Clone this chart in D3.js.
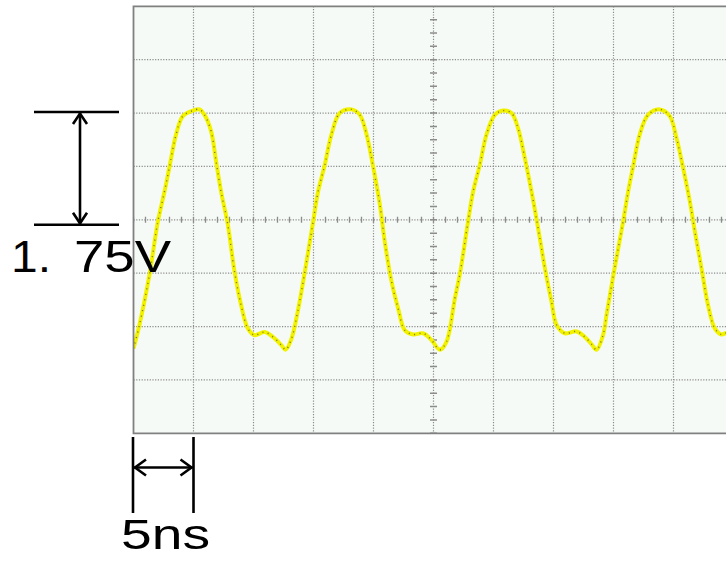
<!DOCTYPE html>
<html><head><meta charset="utf-8">
<script src="https://cdn.jsdelivr.net/npm/d3@7"></script>
<style>html,body{margin:0;padding:0;background:#fff;overflow:hidden}</style>
</head><body>
<svg id="chart" width="726" height="563"></svg>
<script>
const timeNs = [0,0.5,1.33,2.03,2.58,3.0,3.55,4.11,4.94,5.5,5.92,6.47,6.88,7.3,7.86,8.42,8.97,9.53,10.08,10.92,11.61,12.3,12.67,13.13,13.69,
  14.28,14.97,15.38,15.94,16.5,17.19,18.17,18.86,19.42,19.97,20.53,20.94,21.5,22.05,22.61,23.3,24.13,24.83,25.53,26.08,26.78,
  27.19,27.88,28.3,28.86,29.42,30.11,30.8,31.5,32.05,32.61,33.17,33.72,34.28,34.83,35.25,35.94,36.92,37.61,38.17,38.58,39.13,39.42,
  39.97,40.8,41.22,41.63,42.19,42.88,43.86,44.69,45.25,45.8,46.36,46.78,47.33,47.88,48.44,49.0,49.33,50];
const voltage = [-2.11,-1.72,-0.90,-0.03,0.46,0.87,1.40,1.70,1.79,1.81,1.72,1.45,0.96,0.46,-0.08,-0.85,-1.40,-1.78,-1.89,-1.84,-1.92,-2.05,-2.13,-1.97,-1.50,
  -0.85,-0.03,0.46,0.90,1.40,1.75,1.81,1.72,1.40,0.87,0.25,-0.36,-1.01,-1.45,-1.81,-1.88,-1.86,-1.97,-2.13,-2.00,-1.29,
  -0.90,-0.03,0.46,0.90,1.40,1.72,1.79,1.75,1.50,1.01,0.46,-0.14,-0.79,-1.34,-1.72,-1.86,-1.83,-1.92,-2.04,-2.13,-1.89,-1.56,
  -0.93,-0.03,0.46,0.87,1.40,1.72,1.81,1.70,1.34,0.85,0.30,-0.19,-0.79,-1.40,-1.78,-1.88,-1.86,-1.82];

// Screen settings
const timeDivisions = [0,5,10,15,20,25,30,35,40,45,50];          // ns, 5 ns/div
const voltDivisions = [-3.5,-2.625,-1.75,-0.875,0,0.875,1.75,2.625,3.5]; // V, 0.875 V/div
const timeSubTicks = d3.range(0, 50.01, 1);                         // 5 per div
const voltSubTicks = d3.range(-3.5, 3.51, 0.21875);                 // 4 per div

// Annotation labels and spans
const voltLabelA = "1.";
const voltLabelB = "75V";
const voltSpan = [0, 1.75];
const timeLabel = "5ns";
const timeSpan = [0, 5];

const svg = d3.select("#chart");
const x = d3.scaleLinear().domain([0, 50]).range([133.5, 733.5]);
const y = d3.scaleLinear().domain([-3.5, 3.5]).range([433.3, 6.3]);

// Screen background
svg.append("rect").attr("x", x(0)).attr("y", y(3.5)).attr("width", 700).attr("height", y(-3.5) - y(3.5))
  .attr("fill", "#f5faf6");

svg.append("clipPath").attr("id", "scr").append("rect")
  .attr("x", x(0)).attr("y", y(3.5)).attr("width", 700).attr("height", y(-3.5) - y(3.5));

const gridColor = "#8c8c8c";
const grid = svg.append("g").attr("clip-path", "url(#scr)");
grid.selectAll(".vg").data(timeDivisions.slice(1)).join("line")
  .attr("x1", d => x(d)).attr("x2", d => x(d)).attr("y1", y(3.5)).attr("y2", y(-3.5))
  .attr("stroke", gridColor).attr("stroke-width", 1.2).attr("stroke-dasharray", "1.2 1.5");
grid.selectAll(".hg").data(voltDivisions.slice(1, -1)).join("line")
  .attr("x1", x(0)).attr("x2", x(50)).attr("y1", d => y(d)).attr("y2", d => y(d))
  .attr("stroke", gridColor).attr("stroke-width", 1.2).attr("stroke-dasharray", "1.2 1.5");
grid.selectAll(".tt").data(timeSubTicks).join("line")
  .attr("x1", d => x(d)).attr("x2", d => x(d)).attr("y1", y(0) - 3).attr("y2", y(0) + 3)
  .attr("stroke", gridColor).attr("stroke-width", 1.3);
grid.selectAll(".vt").data(voltSubTicks).join("line")
  .attr("x1", x(25) - 3.5).attr("x2", x(25) + 3.5).attr("y1", d => y(d)).attr("y2", d => y(d))
  .attr("stroke", gridColor).attr("stroke-width", 1.5);

// Trace
const pts = timeNs.map((t, i) => [t, voltage[i]]);
const line = d3.line().x(d => x(d[0])).y(d => y(d[1])).curve(d3.curveCatmullRom.alpha(0.5));
const tr = svg.append("g").attr("clip-path", "url(#scr)");
tr.append("path").attr("d", line(pts)).attr("fill", "none").attr("stroke", "#f2f200")
  .attr("stroke-width", 4).attr("stroke-linejoin", "round");
tr.append("path").attr("d", line(pts)).attr("fill", "none").attr("stroke", "#505008")
  .attr("stroke-width", 1.4).attr("stroke-dasharray", "1 4.5").attr("opacity", 0.75);

// Screen border
svg.append("path")
  .attr("d", `M${x(50)+10},${y(3.5)}H${x(0)}V${y(-3.5)}H${x(50)+10}`)
  .attr("fill", "none").attr("stroke", "#808080").attr("stroke-width", 1.8);

// Annotations
const ann = svg.append("g").attr("stroke", "#000").attr("stroke-width", 2.6).attr("fill", "none");
const vTop = y(voltSpan[1]) - 1, vBot = y(voltSpan[0]) + 5;
ann.append("line").attr("x1", 34).attr("x2", 119).attr("y1", vTop).attr("y2", vTop);
ann.append("line").attr("x1", 34).attr("x2", 119).attr("y1", vBot).attr("y2", vBot);
ann.append("line").attr("x1", 80).attr("x2", 80).attr("y1", vTop + 1).attr("y2", vBot - 1);
ann.append("path").attr("d", `M73,${vTop + 12}L80,${vTop + 1.5}L87,${vTop + 12}`);
ann.append("path").attr("d", `M73,${vBot - 12}L80,${vBot - 1.5}L87,${vBot - 12}`);

const hL = x(timeSpan[0]) - 0.5, hR = x(timeSpan[1]);
ann.append("line").attr("x1", hL).attr("x2", hL).attr("y1", 437).attr("y2", 513);
ann.append("line").attr("x1", hR).attr("x2", hR).attr("y1", 437).attr("y2", 513);
ann.append("line").attr("x1", hL + 1).attr("x2", hR - 1).attr("y1", 467.5).attr("y2", 467.5);
ann.append("path").attr("d", `M${hL + 13},459.5L${hL + 2},467.5L${hL + 13},475.5`);
ann.append("path").attr("d", `M${hR - 13},459.5L${hR - 2},467.5L${hR - 13},475.5`);

const txt = svg.append("text").attr("y", 271.5).attr("font-family", "Liberation Sans, Arial, sans-serif")
  .attr("font-size", 44).attr("fill", "#000");
txt.append("tspan").attr("x", 11).attr("textLength", 40).attr("lengthAdjust", "spacingAndGlyphs").text(voltLabelA);
txt.append("tspan").attr("x", 74).attr("textLength", 97).attr("lengthAdjust", "spacingAndGlyphs").text(voltLabelB);

svg.append("text").attr("x", 121).attr("y", 548.5).attr("font-family", "Liberation Sans, Arial, sans-serif")
  .attr("font-size", 42).attr("fill", "#000")
  .attr("textLength", 89).attr("lengthAdjust", "spacingAndGlyphs").text(timeLabel);
</script>
</body></html>
